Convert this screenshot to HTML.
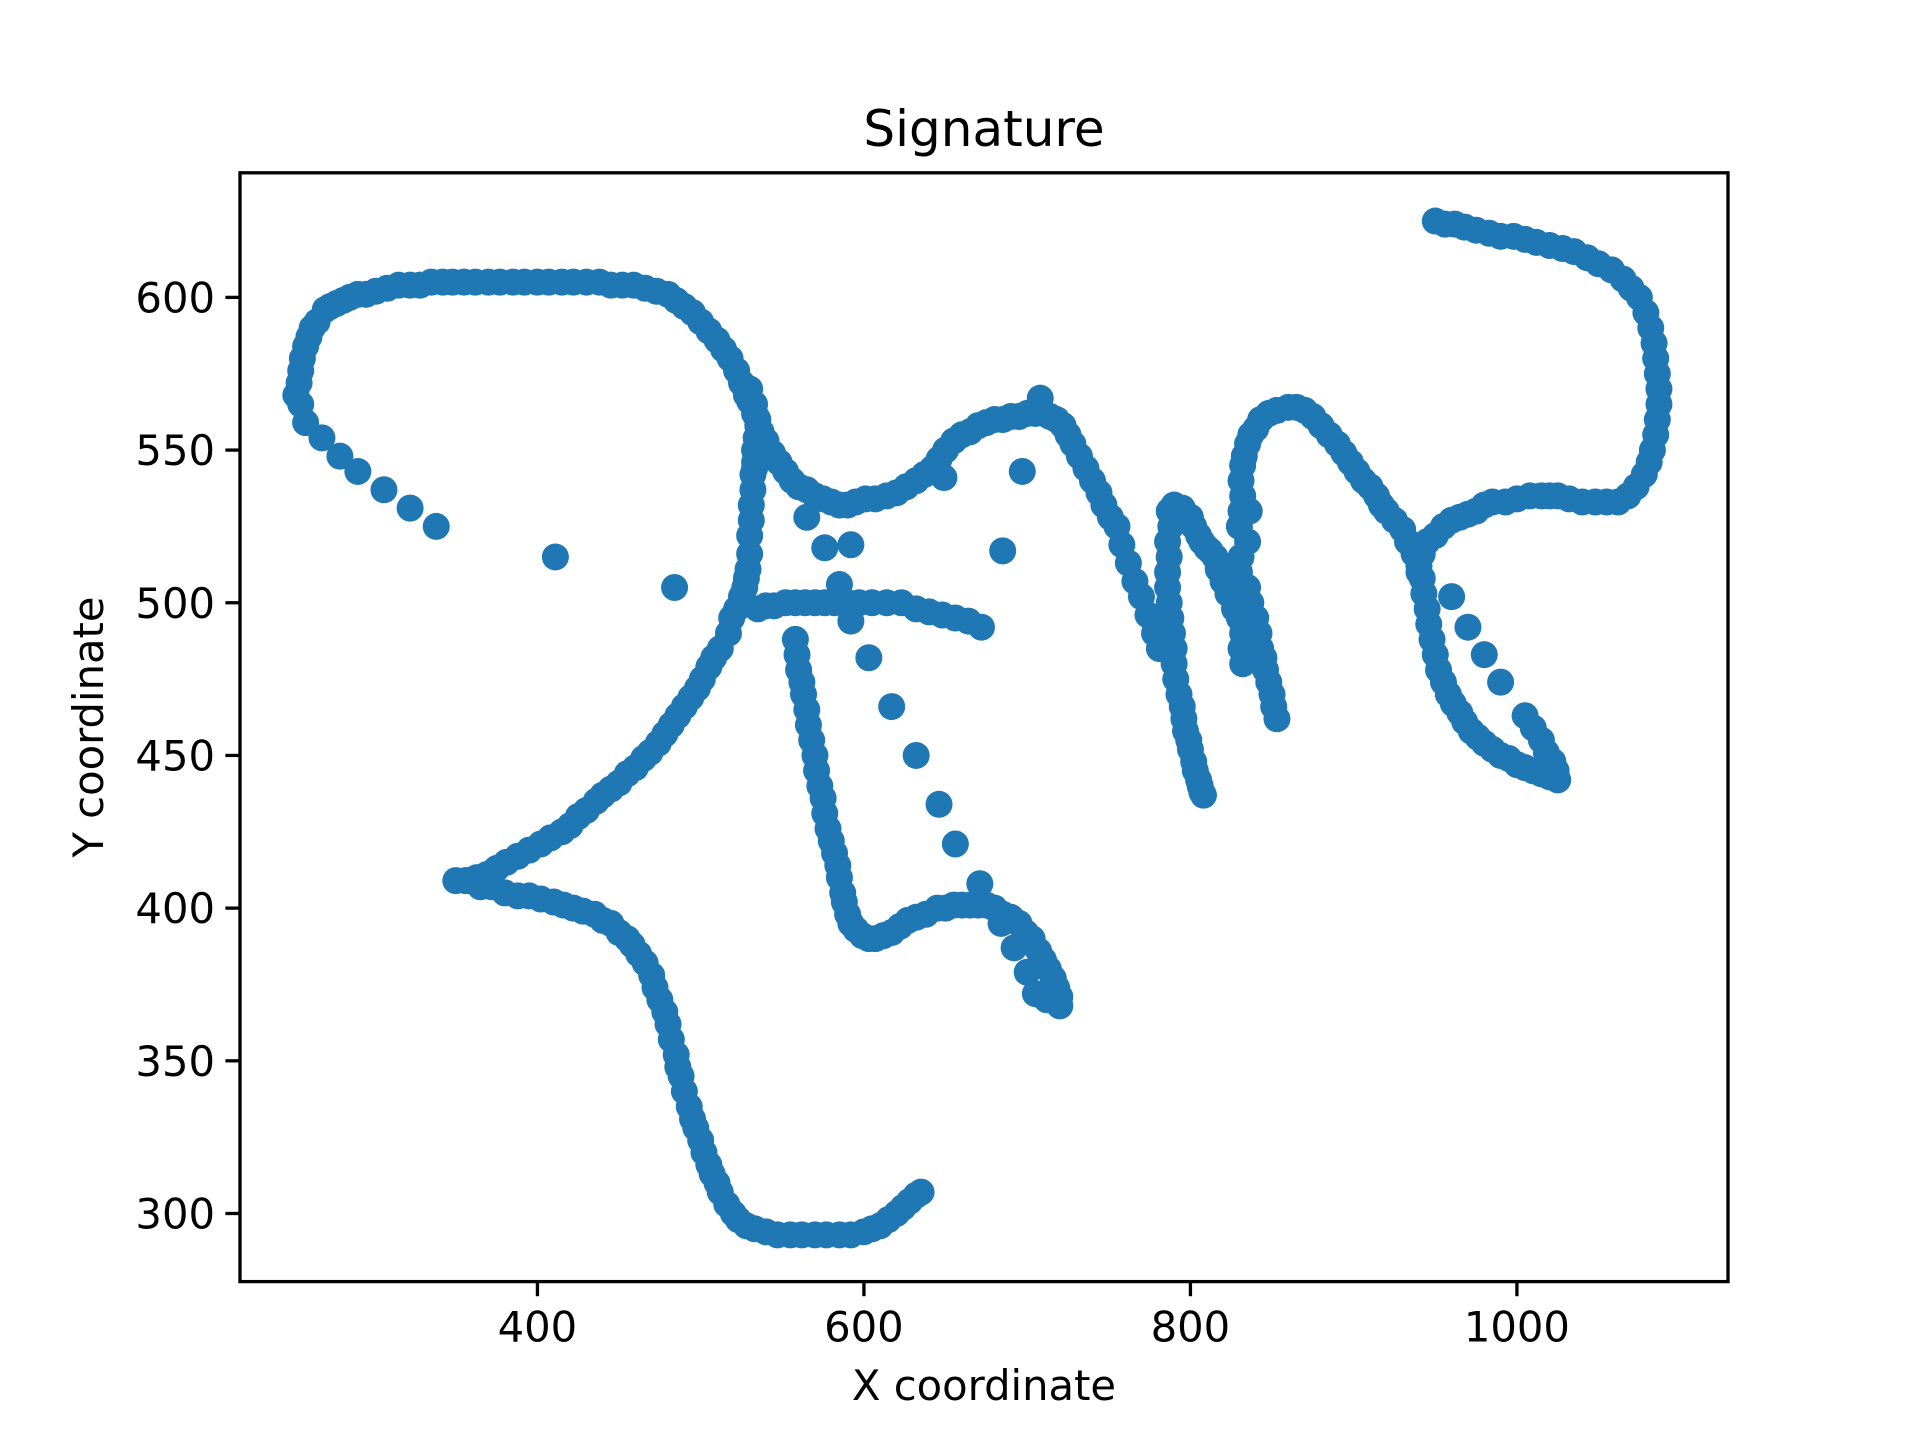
<!DOCTYPE html>
<html><head><meta charset="utf-8"><style>
html,body{margin:0;padding:0;background:#fff;}
svg{display:block;}
text{font-family:"DejaVu Sans","Liberation Sans",sans-serif;fill:#000;}
</style></head><body>
<svg id="chart" width="1920" height="1440" viewBox="0 0 1920 1440" xmlns="http://www.w3.org/2000/svg">
<rect width="1920" height="1440" fill="#fff"/>
<text x="984" y="146" font-size="50" text-anchor="middle">Signature</text>
<g id="marks"></g>
<rect x="240" y="172.8" width="1488" height="1108.8" fill="none" stroke="#000" stroke-width="3.3"/>
<g id="xticks"></g>
<g id="yticks"></g>
<text x="984" y="1400" font-size="41.7" text-anchor="middle">X coordinate</text>
<text x="0" y="0" font-size="41.7" text-anchor="middle" transform="translate(103,727) rotate(-90)">Y coordinate</text>
</svg>
<script>
const xTickValues = [400, 600, 800, 1000];
const yTickValues = [300, 350, 400, 450, 500, 550, 600];
const xPts = [338,322,306,290,279,268,258,255,254,256,260,265,270,277,285,295,308,322,335,348,362,377,392,407,422,438,452,466,480,490,500,510,518,525,530,535,540,548,556,565,575,585,595,607,620,632,642,650,660,670,680,690,700,710,718,725,732,740,747,755,762,770,778,
787,786,786,787,789,790,793,796,799,802,805,808,790,800,805,810,815,820,827,832,
832,831,830,830,831,832,835,840,848,860,870,880,890,898,906,914,920,930,937,942,945,948,952,958,965,972,980,990,1000,1010,1020,1025,
1022,1015,1005,990,980,970,960,940,945,955,965,975,985,1000,1015,1025,1040,1055,1068,1078,1083,1086,1087,1085,1082,1075,1065,1050,1035,1020,1005,990,975,962,950,
835,840,843,846,850,853,835,836,
530,533,535,533,532,531,530,529,527,522,517,512,505,498,490,482,474,465,455,445,436,425,415,402,388,375,363,350,365,380,395,410,422,435,445,455,462,470,475,480,485,488,493,497,502,507,512,520,528,540,555,570,585,600,610,620,628,635,
535,545,558,570,582,590,605,623,640,656,672,
558,560,563,566,570,573,576,580,584,587,590,595,603,612,622,632,645,655,665,675,685,695,703,710,716,720,712,705,
585,592,603,617,632,646,656,671,684,692,700,710,
411,484,565,576,592,649,697,685,708,533,528,
357,372,388,402,416,428,440,450,458,466,472,478,482,486,490,495,500,505,510,516,523,533,547,562,577,592,605,615,624,632,
519,508,501,494,486,478,469,460,450,440,430,420,408,395,381,369,356,
559,562,565,568,571,575,578,582,585,588,592,599,607,617,627,638,650,660,670,680,690,699,707,713,718,720,717,
788,787,786,788,790,791,795,797,800,803,806,807,795,802,807,812,817,823,830,
831,831,831,831,832,833,837,843,853,865,875,885,894,902,910,917,925,933,940,943,946,950,955,961,968,976,985,995,1005,1015,1022,1024,
837,842,845,848,851,
942,950,960,970,980,993,1008,1020,1032,1048,1062,1073,1081,1085,1087,1086,1084,1079,1070,1058,1043,1028,1012,998,983,968,956,
1018,1010,
252,255,258,262,273,281,290,301,315,328,342,355,370,385,400,415,430,445,459,473,485,495,505,514,522,528,533,537,544,552,560,570,580,590,601,614,626,637,646,655,665,675,685,695,705,714,722,728,736,744,751,758,766,774,781,
534,534,533,532,531,530,528,525,
540,552,564,576,597,614,632,648,664];
const yPts = [525,531,537,543,548,554,559,565,572,580,587,592,596,598,600,601,603,604,605,605,605,605,605,605,605,605,604,603,601,597,592,586,580,572,566,560,553,546,540,537,534,532,533,534,536,540,544,550,555,558,560,561,562,562,560,555,548,540,532,525,513,502,490,
530,520,510,500,490,480,470,462,455,448,442,437,532,528,522,518,515,507,498,490,
480,495,510,525,540,545,552,557,562,564,563,558,552,546,540,535,530,524,516,508,498,488,478,470,464,458,454,450,447,445,443,442,
448,455,463,474,483,492,502,510,520,525,528,530,533,534,535,535,533,533,535,542,550,560,570,580,590,600,606,611,615,617,619,620,622,624,625,
505,495,485,478,470,462,520,530,
570,565,558,550,542,532,522,511,505,498,490,485,479,472,466,460,454,449,444,439,435,430,425,421,417,413,410,409,407,405,404,402,400,398,395,390,385,378,370,362,352,345,335,328,320,313,307,300,296,294,293,293,293,294,296,300,304,307,
498,499,500,500,500,500,500,500,497,495,492,
488,478,470,460,450,440,431,422,414,405,398,393,390,391,394,397,400,401,401,401,398,395,390,383,377,371,370,372,
506,494,482,466,450,434,421,408,395,387,379,371,
515,505,528,518,519,541,543,517,567,544,570,
409,407,404,403,401,399,396,392,388,382,374,366,357,348,340,331,324,316,310,303,298,295,293,293,293,293,295,298,302,306,
495,482,475,469,463,457,451,446,441,437,432,427,423,419,415,411,409,
483,474,465,455,445,436,426,418,410,402,395,391,390,392,396,398,400,401,401,400,397,392,386,380,374,368,370,
525,515,505,495,485,475,466,458,452,445,440,438,531,525,520,517,511,503,495,
485,500,515,530,535,548,555,560,563,564,561,555,549,543,538,532,527,520,512,503,493,483,474,467,461,456,452,449,446,444,443,445,
500,490,482,474,466,
516,522,527,529,532,533,535,535,534,533,533,538,546,555,565,575,585,595,603,609,613,616,618,620,621,623,624,
451,459,
568,576,584,590,597,599,601,602,604,604,605,605,605,605,605,605,605,604,604,602,599,595,589,583,576,568,562,556,549,543,538,535,533,532,534,535,538,542,547,553,556,559,560,561,562,561,558,552,544,536,528,519,507,496,485,
561,554,546,537,527,516,508,502,
499,500,500,500,500,500,498,496,494];
const L=240,R=1728,T=172.8,B=1281.6;
const xMin=217.8,xMax=1129.3,yMin=277.7,yMax=640.8;
function sx(v){return L+(v-xMin)/(xMax-xMin)*(R-L);}
function sy(v){return B-(v-yMin)/(yMax-yMin)*(B-T);}
const NS="http://www.w3.org/2000/svg";
const marks=document.getElementById('marks');
for(let i=0;i<xPts.length;i++){
  const c=document.createElementNS(NS,'circle');
  c.setAttribute('cx',sx(xPts[i]));c.setAttribute('cy',sy(yPts[i]));
  c.setAttribute('r',13.5);c.setAttribute('fill','#1f77b4');
  
  
  marks.appendChild(c);
}
const xg=document.getElementById('xticks');
xTickValues.forEach(v=>{
  const x=sx(v);
  const l=document.createElementNS(NS,'line');
  l.setAttribute('x1',x);l.setAttribute('x2',x);l.setAttribute('y1',B);l.setAttribute('y2',B+14.6);
  l.setAttribute('stroke','#000');l.setAttribute('stroke-width',3.3);
  
  
  xg.appendChild(l);
  const t=document.createElementNS(NS,'text');
  t.setAttribute('x',x);t.setAttribute('y',B+60);t.setAttribute('font-size',41.7);t.setAttribute('text-anchor','middle');
  t.textContent=v;
  
  
  xg.appendChild(t);
});
const yg=document.getElementById('yticks');
yTickValues.forEach(v=>{
  const y=sy(v);
  const l=document.createElementNS(NS,'line');
  l.setAttribute('x1',L-14.6);l.setAttribute('x2',L);l.setAttribute('y1',y);l.setAttribute('y2',y);
  l.setAttribute('stroke','#000');l.setAttribute('stroke-width',3.3);
  
  
  yg.appendChild(l);
  const t=document.createElementNS(NS,'text');
  t.setAttribute('x',L-25);t.setAttribute('y',y+15);t.setAttribute('font-size',41.7);t.setAttribute('text-anchor','end');
  t.textContent=v;
  
  
  yg.appendChild(t);
});
</script>
</body></html>
